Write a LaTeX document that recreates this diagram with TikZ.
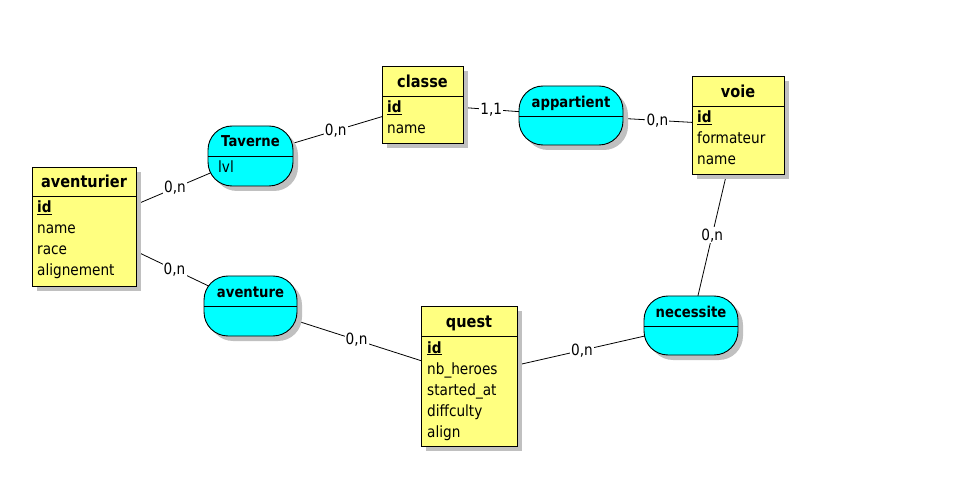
\documentclass[tikz,border=0pt]{standalone}
\usepackage{fontspec}
\setmainfont{DejaVu Sans}[FakeStretch=0.88]
\usetikzlibrary{backgrounds,shapes.geometric}
\definecolor{entfill}{RGB}{255,255,128}
\definecolor{assfill}{RGB}{0,255,255}
\definecolor{shad}{RGB}{192,192,192}
\tikzset{
  ent/.style={draw=black, fill=entfill, line width=0.9pt, inner sep=0pt, outer sep=0pt},
  ass/.style={ellipse, draw=none, inner sep=0pt, outer sep=0pt},
  assbody/.style={draw=black, fill=assfill, line width=0.9pt, rounded corners=24pt},
  assshadow/.style={fill=shad, rounded corners=24pt},
  shadowfill/.style={fill=shad},
  etitle/.style={anchor=base, inner sep=0pt, font=\fontsize{16.5}{19}\selectfont\bfseries},
  atitle/.style={anchor=base, inner sep=0pt, font=\fontsize{15}{18}\selectfont\bfseries},
  attr/.style={anchor=base west, inner sep=0pt, font=\fontsize{15.5}{18}\selectfont},
  lab/.style={fill=white, inner sep=1.2pt, font=\fontsize{15.5}{18}\selectfont},
  conn/.style={draw=black, line width=0.8pt},
  sepline/.style={draw=black, line width=0.9pt},
}
\newcommand\assocshape[5]{%
  \fill[assshadow, shift={(5,5)}] (#1,#2) rectangle (#3,#4);
  \draw[assbody] (#1,#2) rectangle (#3,#4);
  \draw[sepline] (#1,#5) -- (#3,#5);
}
\begin{document}
\begin{tikzpicture}[x=1pt,y=-1pt]
\useasboundingbox (0,0) rectangle (977,486);

% ---------- entities ----------
% aventurier
\fill[shadowfill] (37,172) rectangle (141,291);
\node[ent, minimum width=104pt, minimum height=119pt] (avent) at (84,226.5) {};
\draw[sepline] (32,196) -- (136,196);
\node[etitle] (aventT) at (84,188) {aventurier};
\node[attr] (aventA1) at (37,213) {\textbf{\underline{id}}};
\node[attr] (aventA2) at (37,234) {name};
\node[attr] (aventA3) at (37,255) {race};
\node[attr] (aventA4) at (37,276) {alignement};

% classe
\fill[shadowfill] (387,71) rectangle (468,148);
\node[ent, minimum width=81pt, minimum height=77pt] (classe) at (422.5,104.5) {};
\draw[sepline] (382,96) -- (463,96);
\node[etitle] (classeT) at (422.5,87.5) {classe};
\node[attr] (classeA1) at (387,113) {\textbf{\underline{id}}};
\node[attr] (classeA2) at (387,134) {name};

% voie
\fill[shadowfill] (697,81) rectangle (789,179);
\node[ent, minimum width=92pt, minimum height=98pt] (voie) at (738,125) {};
\draw[sepline] (692,106) -- (784,106);
\node[etitle] (voieT) at (738,97.5) {voie};
\node[attr] (voieA1) at (697,123) {\textbf{\underline{id}}};
\node[attr] (voieA2) at (697,144) {formateur};
\node[attr] (voieA3) at (697,164.5) {name};

% quest
\fill[shadowfill] (426,311) rectangle (522,451);
\node[ent, minimum width=96pt, minimum height=140pt] (quest) at (469,376) {};
\draw[sepline] (421,336.5) -- (517,336.5);
\node[etitle] (questT) at (469,327.5) {quest};
\node[attr] (questA1) at (427,353) {\textbf{\underline{id}}};
\node[attr] (questA2) at (427,374) {nb\_heroes};
\node[attr] (questA3) at (427,395) {started\_at};
\node[attr] (questA4) at (427,416) {diffculty};
\node[attr] (questA5) at (427,437) {align};

% ---------- associations ----------
\assocshape{208}{126}{293}{186}{156.5}
\node[ass, minimum width=85pt, minimum height=60pt] (taverne) at (250.5,156) {};
\node[atitle] (taverneT) at (250.5,147) {Taverne};
\node[attr] (taverneA) at (218,173) {lvl};

\assocshape{519}{86}{623}{145}{116}
\node[ass, minimum width=104pt, minimum height=59pt] (appart) at (571,115.5) {};
\node[atitle] (appartT) at (571,107.5) {appartient};

\assocshape{204}{276}{297}{336}{306.5}
\node[ass, minimum width=93pt, minimum height=60pt] (aventure) at (250.5,306) {};
\node[atitle] (aventureT) at (250.5,297.5) {aventure};

\assocshape{644}{296}{738}{355}{326}
\node[ass, minimum width=94pt, minimum height=59pt] (necess) at (691,325.5) {};
\node[atitle] (necessT) at (691,317.5) {necessite};

% ---------- connectors ----------
\begin{pgfonlayer}{background}
\draw[conn] (avent) -- node[lab] (l1) {0,n} (taverne);
\draw[conn] (taverne) -- node[lab] (l2) {0,n} (classe);
\draw[conn] (classe) -- node[lab] (l3) {1,1} (appart);
\draw[conn] (appart) -- node[lab] (l4) {0,n} (voie);
\draw[conn] (voie) -- node[lab] (l5) {0,n} (necess);
\draw[conn] (avent) -- node[lab] (l6) {0,n} (aventure);
\draw[conn] (aventure) -- node[lab] (l7) {0,n} (quest);
\draw[conn] (quest) -- node[lab] (l8) {0,n} (necess);
\end{pgfonlayer}
\end{tikzpicture}
\end{document}
